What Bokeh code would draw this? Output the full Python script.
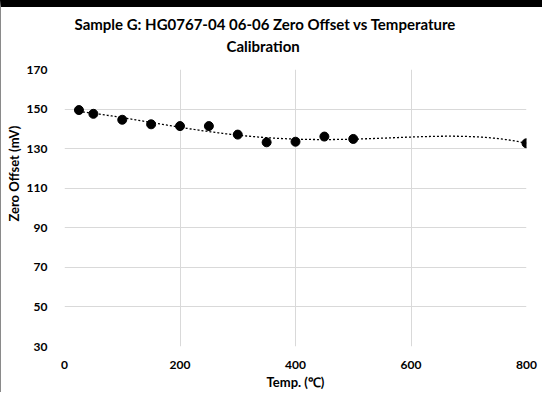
import numpy as np
from bokeh.plotting import figure
from bokeh.models import Title, FixedTicker, Range1d
from bokeh.embed import file_html
from bokeh.resources import INLINE

# Data
temp_c = [25, 50, 100, 150, 200, 250, 300, 350, 400, 450, 500, 800]
zero_offset_mv = [149.5, 147.6, 144.6, 142.3, 141.4, 141.4, 137.1, 133.2, 133.5, 136.1, 134.9, 132.7]
x_ticks = [0, 200, 400, 600, 800]
y_ticks = [30, 50, 70, 90, 110, 130, 150, 170]

title_line1 = "Sample G: HG0767-04 06-06 Zero Offset vs Temperature"
title_line2 = "Calibration"
x_label = "Temp. (℃)"
y_label = "Zero Offset  (mV)"

FONT = "Lato"

# polynomial trendline fitted to the data points
coef = np.polyfit(temp_c, zero_offset_mv, 4)
trend_x = np.linspace(min(temp_c), max(temp_c), 300)
trend_y = np.polyval(coef, trend_x)

p = figure(width=542, height=392, x_range=Range1d(0, 800), y_range=Range1d(30, 170),
           output_backend="svg", toolbar_location=None,
           min_border_left=62, min_border_right=17, min_border_bottom=53, min_border_top=10)
p.styles = {"border-top": "7px solid #000000", "border-left": "1px solid #8a8a8a"}

p.title.text = title_line1
p.title.align = "left"
p.title.offset = 10
p.title.text_font = FONT
p.title.text_font_size = "15px"
p.title.text_font_style = "bold"
p.title.text_color = "#000000"
p.title.standoff = 2
p.title.padding = dict(left=0, right=0, top=4, bottom=0)

t2 = Title(text=title_line2, align="left", offset=162, text_font=FONT,
           text_font_size="15px", text_font_style="bold", text_color="#000000", standoff=2,
           padding=dict(left=0, right=0, top=0, bottom=14))
p.add_layout(t2, "above")

# y-axis label sits above the vertical centre in the reference
ylab = Title(text=y_label, align="right", offset=53, text_font=FONT,
             text_font_size="13px", text_font_style="bold", text_color="#000000", standoff=4)
p.add_layout(ylab, "left")

p.line(trend_x, trend_y, line_color="#000000", line_width=1.3, line_dash="2 2")
p.scatter(temp_c, zero_offset_mv, size=9, fill_color="#000000", line_color="#000000")

p.xaxis.ticker = FixedTicker(ticks=x_ticks)
p.yaxis.ticker = FixedTicker(ticks=y_ticks)
for ax in (p.xaxis, p.yaxis):
    ax.axis_line_color = None
    ax.major_tick_line_color = None
    ax.minor_tick_line_color = None
    ax.major_label_text_font = FONT
    ax.major_label_text_font_size = "12px"
    ax.major_label_text_font_style = "bold"
    ax.major_label_text_color = "#000000"
    ax.axis_label_text_font = FONT
    ax.axis_label_text_font_size = "13px"
    ax.axis_label_text_font_style = "bold"
    ax.axis_label_text_color = "#000000"
p.xaxis.axis_label = x_label
p.xaxis.major_label_standoff = 8
p.yaxis.major_label_standoff = 11
p.xaxis.axis_label_standoff = 2

p.xgrid.grid_line_color = "#d9d9d9"
p.ygrid.grid_line_color = "#d9d9d9"
p.xgrid.grid_line_width = 1
p.ygrid.grid_line_width = 1
p.outline_line_color = None
p.background_fill_color = "#ffffff"
p.border_fill_color = "#ffffff"

open("out.html", "w").write(file_html(p, INLINE))
